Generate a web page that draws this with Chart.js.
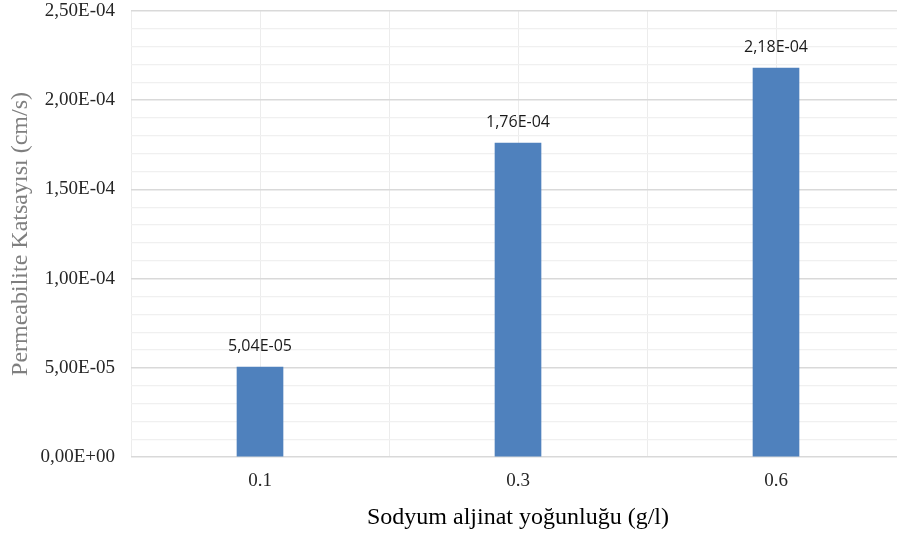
<!DOCTYPE html>
<html>
<head>
<meta charset="utf-8">
<script src="https://cdn.jsdelivr.net/npm/chart.js@4.4.0/dist/chart.umd.min.js"></script>
<style>
  html, body { margin: 0; padding: 0; background: #fff; overflow: hidden; }
  #wrap { width: 905px; height: 533px; }
</style>
</head>
<body>
<div id="wrap"><canvas id="myChart"></canvas></div>
<script>
// data
let categories = ['0.1', '0.3', '0.6'];
let values = [5.04e-5, 1.76e-4, 2.18e-4];
let yMax = 2.5e-4;
let yStep = 1e-5;   // minor grid
let yMajor = 5;     // every 5 minor steps is a labelled tick

// 2.18e-4 -> "2,18E-04"
function sci(v) {
    if (Math.abs(v) < 1e-12) return '0,00E+00';
    let parts = v.toExponential(2).split('e');
    let exp = parseInt(parts[1]);
    let sign = exp < 0 ? '-' : '+';
    let e = Math.abs(exp).toString().padStart(2, '0');
    return parts[0].replace('.', ',') + 'E' + sign + e;
}

function isMajor(v) {
    return Math.round(v / yStep) % yMajor === 0;
}

// draws the value above every bar
const barLabels = {
    id: 'barLabels',
    afterDatasetsDraw(chart) {
        const ctx = chart.ctx;
        const meta = chart.getDatasetMeta(0);
        ctx.save();
        ctx.font = '16px "Open Sans", "Liberation Sans", sans-serif';
        ctx.fillStyle = '#1a1a1a';
        ctx.textAlign = 'center';
        ctx.textBaseline = 'alphabetic';
        meta.data.forEach((bar, i) => {
            ctx.fillText(sci(values[i]), bar.x, bar.y - 16);
        });
        ctx.restore();
    }
};

const data = {
    labels: categories,
    datasets: [
        {
            label: 'Permeabilite Katsayısı',
            data: values,
            backgroundColor: '#4f81bd',
            borderWidth: 0,
            barThickness: 46
        }
    ]
};

const config = {
    type: 'bar',
    data: data,
    plugins: [barLabels],
    options: {
        responsive: true,
        maintainAspectRatio: false,
        animation: false,
        layout: {
            padding: { top: 0, right: 0, bottom: 1, left: 6 }
        },
        plugins: {
            legend: { display: false },
            tooltip: { enabled: false }
        },
        scales: {
            x: {
                grid: {
                    offset: true,
                    color: '#ececec',
                    lineWidth: 1,
                    drawTicks: false
                },
                border: { display: false },
                ticks: {
                    color: '#262626',
                    padding: 13,
                    font: { family: '"Liberation Serif", serif', size: 19 }
                },
                title: {
                    display: true,
                    text: 'Sodyum aljinat yoğunluğu (g/l)',
                    color: '#000',
                    padding: { top: 10, bottom: 0 },
                    font: { family: '"Liberation Serif", serif', size: 24 }
                },
                afterFit: function (scale) {
                    scale.height = 75;
                    scale.paddingLeft = 0;
                    scale.paddingRight = 0;
                }
            },
            x2: {
                type: 'category',
                labels: categories,
                position: 'bottom',
                offset: true,
                display: true,
                grid: {
                    offset: false,
                    color: '#ececec',
                    lineWidth: 1,
                    drawTicks: false
                },
                border: { display: false },
                ticks: { display: false },
                afterFit: function (scale) {
                    scale.height = 0;
                    scale.paddingLeft = 0;
                    scale.paddingRight = 0;
                }
            },
            y: {
                min: 0,
                max: yMax,
                grid: {
                    drawTicks: false,
                    color: (c) => isMajor(c.tick.value) ? '#d9d9d9' : '#f0f0f0',
                    lineWidth: (c) => isMajor(c.tick.value) ? 1.5 : 1.2
                },
                border: { display: false },
                ticks: {
                    stepSize: yStep,
                    autoSkip: false,
                    padding: 16,
                    color: '#262626',
                    font: { family: '"Liberation Serif", serif', size: 19 },
                    callback: function (v) {
                        return isMajor(v) ? sci(v) : '';
                    }
                },
                title: {
                    display: true,
                    text: 'Permeabilite Katsayısı (cm/s)',
                    color: '#7f7f7f',
                    padding: { top: 0, bottom: 10 },
                    font: { family: '"Liberation Serif", serif', size: 24 }
                },
                afterFit: function (scale) {
                    scale.width = 125;
                    scale.paddingTop = 11;
                    scale.paddingBottom = 0;
                }
            }
        }
    }
};

var myChart = new Chart(
    document.getElementById('myChart'),
    config
);
</script>
</body>
</html>
